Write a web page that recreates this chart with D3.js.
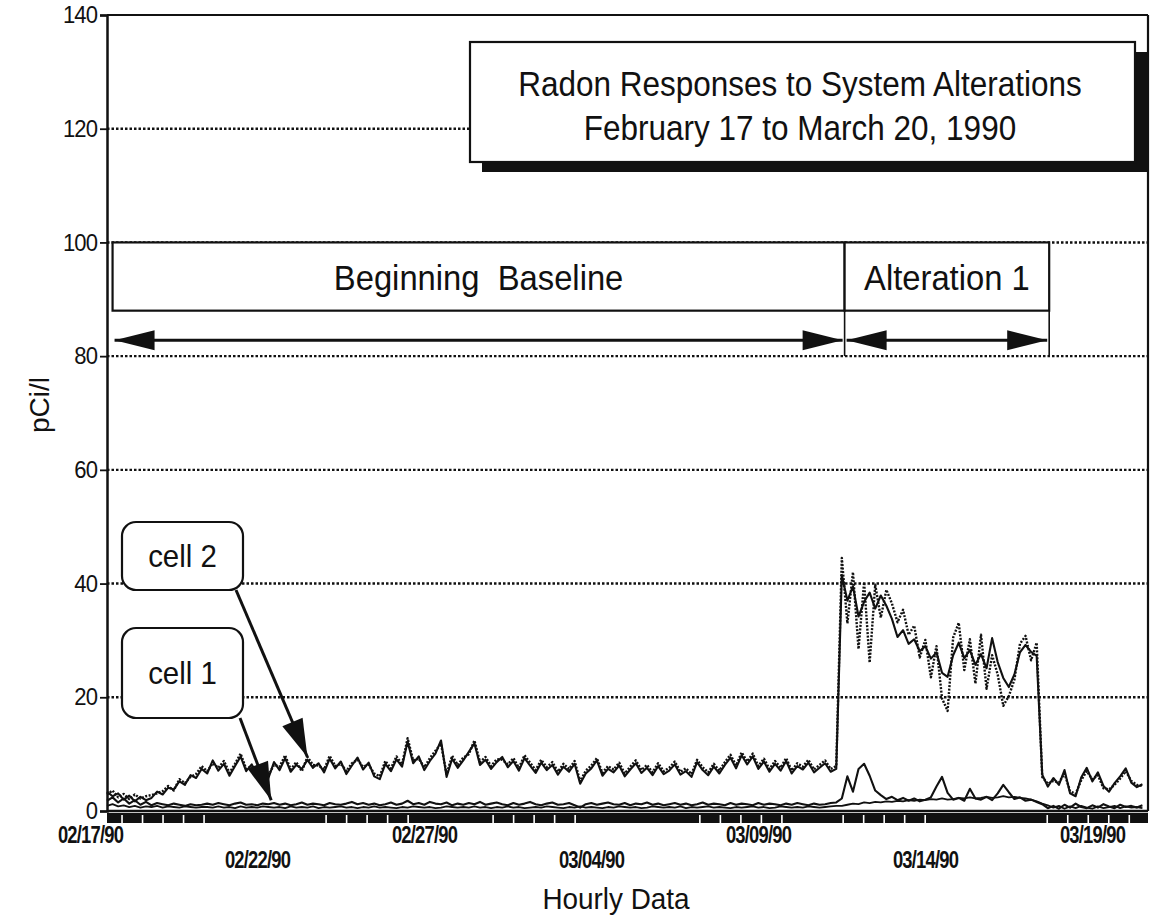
<!DOCTYPE html>
<html>
<head>
<meta charset="utf-8">
<script src="https://cdn.jsdelivr.net/npm/d3@7/dist/d3.min.js"></script>
<style>
body{margin:0;background:#fff;}
svg{display:block;background:#fff;}
text{font-family:"Liberation Sans",Arial,Helvetica,sans-serif;fill:#111;}
</style>
</head>
<body>
<svg width="1153" height="921"></svg>
<script>
// readings every 4 hours, first one at 02/17/90 00:00
var startTime = new Date(1990,1,17,0);
var stepHours = 4;

// cell 2, solid trace
var cell2 = [3.4,2.6,3.1,2.0,2.7,1.7,2.5,1.9,
  2.3,3.4,2.9,4.1,3.8,5.2,4.6,6.3,5.8,7.4,
  6.6,8.9,7.1,8.3,6.2,7.9,9.6,7.0,8.2,6.4,7.7,5.8,8.6,7.2,9.3,6.9,8.1,7.4,9.0,7.6,8.4,6.8,9.2,7.5,8.7,6.5,8.0,9.4,7.3,8.5,6.1,
  5.6,8.3,7.0,9.1,7.8,12.2,8.4,9.6,7.2,8.8,10.1,12.4,6.0,9.2,7.6,8.9,10.4,11.9,8.1,9.0,7.4,8.6,9.5,7.7,8.8,7.1,9.3,8.0,6.7,8.5,
  7.2,8.1,6.4,7.8,6.9,8.3,4.8,6.6,7.5,8.9,6.2,7.4,6.8,8.0,6.1,7.3,8.4,6.7,7.6,6.3,7.9,6.5,7.1,8.2,6.4,7.0,
  6.0,8.6,7.2,6.3,7.8,6.6,8.1,9.4,7.5,9.8,8.2,9.6,7.4,8.7,6.9,8.3,7.1,8.8,6.6,7.9,7.3,8.5,6.8,7.6,8.4,6.9,7.4,
  41.5,37.0,39.5,34.2,36.8,38.4,35.6,37.9,36.1,33.8,30.6,31.8,29.4,30.2,28.1,29.0,26.8,27.9,24.3,23.6,
  27.4,29.6,26.9,28.3,25.7,27.6,25.1,30.4,26.2,23.4,21.8,24.0,27.9,29.2,28.0,27.3,
  6.4,4.3,5.8,4.6,7.2,3.1,2.6,5.9,7.6,5.2,6.8,4.4,3.4,4.9,6.1,7.5,5.0,4.2,4.7];

// cell 2, dotted trace
var cell2b = [2.9,3.6,2.4,3.0,2.1,2.9,2.2,2.6,
  2.8,3.1,3.5,4.4,3.6,5.6,4.9,6.0,6.5,7.9,
  7.0,8.4,7.6,8.8,6.7,8.3,10.1,7.4,7.9,7.0,8.2,6.3,8.1,7.8,9.8,7.3,8.6,7.0,9.5,8.1,8.0,7.3,9.7,7.9,8.3,7.0,8.4,9.0,7.8,8.1,6.6,
  6.1,8.8,7.5,9.6,8.2,12.8,8.9,9.2,7.7,9.3,10.6,11.8,6.5,9.7,8.1,9.4,10.0,12.4,8.6,9.5,7.9,9.1,9.0,8.2,9.3,7.6,9.8,8.5,7.2,9.0,
  7.7,8.6,6.9,8.3,7.4,8.8,5.2,7.1,8.0,9.3,6.7,7.9,7.3,8.5,6.6,7.8,8.9,7.2,8.1,6.8,8.4,7.0,7.6,8.7,6.9,7.5,
  6.5,9.0,7.7,6.8,8.3,7.1,8.6,9.9,8.0,10.3,8.7,10.1,7.9,9.2,7.4,8.8,7.6,9.3,7.1,8.4,7.8,9.0,7.3,8.1,8.9,7.4,7.9,
  44.5,33.0,42.0,28.5,40.2,26.1,39.8,34.0,38.9,36.5,33.2,35.4,31.0,32.6,27.0,30.1,23.5,29.0,19.8,17.6,
  30.5,33.1,24.8,30.2,22.4,31.0,21.5,27.4,24.0,18.5,20.2,23.1,29.4,30.8,26.5,29.6,
  6.0,4.8,5.3,5.0,6.6,3.5,3.0,5.4,7.0,5.6,6.3,4.0,3.8,4.6,5.7,7.0,5.3,4.6,4.4];

// cell 1, solid trace with the bumps
var cell1 = [1.8,2.4,1.5,2.2,1.3,1.9,1.1,1.6,1.0,1.4,1.2,1.0,1.3,1.1,0.9,1.2,1.0,1.1,
  1.3,1.1,1.4,1.2,1.0,1.3,1.5,1.1,1.2,1.0,1.3,1.2,
  1.4,1.1,1.3,1.0,1.2,1.5,1.1,1.3,1.2,1.0,1.4,1.2,
  1.1,1.3,1.6,1.2,1.4,1.1,1.3,1.0,1.2,1.5,1.1,1.3,
  1.8,1.2,1.4,1.1,1.6,1.3,1.2,1.5,1.0,1.3,1.1,1.4,
  1.2,1.6,1.1,1.3,1.5,1.2,1.0,1.4,1.1,1.3,1.6,1.2,
  1.0,1.3,1.5,1.1,1.2,1.4,1.0,0.6,1.2,1.4,1.1,1.3,
  1.5,1.2,1.1,1.4,1.0,1.3,1.2,1.5,1.1,1.3,1.0,1.2,
  1.4,1.1,1.3,1.0,1.2,1.5,1.1,1.3,1.2,1.0,1.4,1.1,
  1.3,1.2,1.0,1.4,1.1,1.3,1.2,1.0,1.3,1.1,1.4,1.2,
  1.0,1.3,1.1,1.2,1.4,1.5,
  2.2,6.1,3.4,7.4,8.3,6.2,3.6,2.8,2.1,2.5,1.9,2.3,1.8,2.2,1.7,2.0,2.4,4.3,6.0,3.2,
  2.0,2.3,1.8,3.9,2.2,2.0,2.5,1.9,3.1,4.6,3.3,2.1,2.4,1.8,2.0,1.6,
  1.2,0.5,0.9,0.4,1.1,0.6,1.3,0.7,0.5,1.0,0.6,1.2,0.8,0.5,1.1,0.7,0.9,0.6,1.0];

// cell 1, lowest trace
var cell1b = [0.9,1.2,0.8,1.0,0.7,0.9,0.6,0.8,0.7,0.9,0.6,0.8,0.7,0.6,0.8,0.7,0.6,0.7,
  0.7,0.6,0.8,0.6,0.7,0.5,0.8,0.6,0.7,0.6,0.8,0.7,
  0.6,0.7,0.5,0.8,0.6,0.7,0.6,0.8,0.5,0.7,0.6,0.7,
  0.8,0.6,0.7,0.5,0.7,0.6,0.8,0.6,0.7,0.6,0.5,0.7,
  0.6,0.8,0.7,0.6,0.7,0.5,0.6,0.8,0.7,0.6,0.7,0.6,
  0.8,0.6,0.7,0.5,0.7,0.6,0.8,0.6,0.7,0.5,0.6,0.7,
  0.6,0.8,0.7,0.6,0.5,0.7,0.6,0.8,0.6,0.7,0.6,0.5,
  0.7,0.6,0.8,0.7,0.6,0.7,0.5,0.6,0.8,0.7,0.6,0.7,
  0.6,0.8,0.5,0.7,0.6,0.7,0.8,0.6,0.7,0.6,0.5,0.7,
  0.6,0.7,0.8,0.6,0.7,0.5,0.6,0.8,0.7,0.6,0.7,0.6,
  0.8,0.7,0.6,0.7,0.8,0.9,
  0.9,1.1,1.3,1.2,1.5,1.4,1.6,1.5,1.7,1.6,1.8,1.7,1.9,1.8,2.0,1.9,2.1,2.0,2.2,2.0,
  2.1,2.3,2.2,2.4,2.2,2.3,2.5,2.3,2.4,2.6,2.4,2.5,2.3,2.2,2.0,1.7,
  1.3,1.0,0.6,0.9,0.4,0.8,0.5,0.9,0.6,0.4,0.8,0.5,0.7,0.9,0.5,0.8,0.6,0.7,0.5];

var yTicks = [0,20,40,60,80,100,120,140];
var dateTicks = [new Date(1990,1,17), new Date(1990,1,22), new Date(1990,1,27), new Date(1990,2,4),
  new Date(1990,2,9), new Date(1990,2,14), new Date(1990,2,19)];
var phases = [
  {name:"Beginning\u00a0\u00a0Baseline", start:new Date(1990,1,17,4), end:new Date(1990,2,11,2)},
  {name:"Alteration 1", start:new Date(1990,2,11,2), end:new Date(1990,2,17,5)}
];
var titleLines = ["Radon Responses to System Alterations", "February 17 to March 20, 1990"];
var cellNotes = [
  {name:"cell 2", at:new Date(1990,1,23,0), value:9.5},
  {name:"cell 1", at:new Date(1990,1,21,22), value:1.9}
];
// days (from start) where the hour-tick band shows white gaps
var gapGroups = [0.45, 6.56, 11.56, 17.75, 22.04, 28.15];

var svg = d3.select("svg");
var ink = "#111";
var narrow = 0.9; // the old chart font is a condensed Helvetica

var x = d3.scaleTime()
  .domain([startTime, new Date(1990,2,20,4)])
  .range([107,1148]);
var y = d3.scaleLinear()
  .domain([0,140])
  .range([811,15]);

function timeAt(i) {
  return new Date(startTime.getTime() + i*stepHours*3600000);
}

// condensed text placed at a centre/anchor point
function label(parent,cx,cy,str,size,k,anchor) {
  return parent.append("g").attr("transform","translate("+cx+","+cy+") scale("+k+",1)")
    .append("text").attr("text-anchor",anchor||"middle").attr("font-size",size).text(str);
}

// dotted grid lines
svg.append("g").selectAll("line")
  .data(yTicks.filter(function(d){ return d>0 && d<140; }))
  .enter().append("line")
  .attr("x1",x.range()[0]).attr("x2",x.range()[1])
  .attr("y1",function(d){ return y(d); })
  .attr("y2",function(d){ return y(d); })
  .attr("stroke",ink).attr("stroke-width",2.4)
  .attr("stroke-dasharray","2.5,2");

// frame: top and right
svg.append("line").attr("x1",x.range()[0]).attr("x2",x.range()[1])
  .attr("y1",y(140)).attr("y2",y(140)).attr("stroke",ink).attr("stroke-width",2.2);
svg.append("line").attr("x1",x.range()[1]).attr("x2",x.range()[1])
  .attr("y1",y(140)).attr("y2",y(0)).attr("stroke",ink).attr("stroke-width",2.2);

// y axis
var yAxis = d3.axisLeft(y).tickValues(yTicks).tickSize(7).tickPadding(3);
var gy = svg.append("g").attr("transform","translate("+x.range()[0]+",0)").call(yAxis);
gy.select(".domain").attr("stroke",ink).attr("stroke-width",2.5);
gy.selectAll(".tick line").attr("stroke",ink).attr("stroke-width",1.8);
gy.selectAll("text")
  .attr("font-size",24).attr("letter-spacing",-1).attr("fill",ink)
  .attr("x",-10/0.92).attr("transform","scale(0.92,1)");

// x axis baseline
svg.append("line").attr("x1",x.range()[0]).attr("x2",x.range()[1])
  .attr("y1",y(0)).attr("y2",y(0)).attr("stroke",ink).attr("stroke-width",2.4);

// dark band of hourly ticks under the axis
svg.append("rect").attr("x",x.range()[0]).attr("y",y(0)+2)
  .attr("width",x.range()[1]-x.range()[0]).attr("height",10).attr("fill",ink);
var gaps = [];
gapGroups.forEach(function(g){
  for (var k=0;k<5;k++) gaps.push(new Date(startTime.getTime() + (g + k*0.614)*86400000));
});
svg.append("g").selectAll("line").data(gaps).enter().append("line")
  .attr("x1",function(d){ return x(d); }).attr("x2",function(d){ return x(d); })
  .attr("y1",y(0)+4).attr("y2",y(0)+12)
  .attr("stroke","#fff").attr("stroke-width",1.6);

// x tick labels, two staggered rows
var kx = 0.8;
var xAxis = d3.axisBottom(x).tickValues(dateTicks)
  .tickFormat(d3.timeFormat("%m/%d/%y")).tickSize(0);
var gx = svg.append("g").attr("transform","translate(0,"+y(0)+")").call(xAxis);
gx.select(".domain").remove();
gx.selectAll(".tick text")
  .attr("transform","scale("+kx+",1)")
  .attr("dx",-17/kx)
  .attr("dy",0)
  .attr("y",function(d,i){ return i%2 ? 57 : 32; })
  .attr("font-size",23).attr("font-weight","bold")
  .attr("letter-spacing",-1).attr("fill",ink);

// data traces
var line = d3.line()
  .x(function(d,i){ return x(timeAt(i)); })
  .y(function(d){ return y(d); });

var traces = [
  {values:cell1b, dash:null, w:1.8},
  {values:cell1, dash:null, w:2.1},
  {values:cell2, dash:null, w:2.1},
  {values:cell2b, dash:"2,1.5", w:2.4}
];
svg.append("g").selectAll("path").data(traces).enter().append("path")
  .attr("d",function(d){ return line(d.values); })
  .attr("fill","none").attr("stroke",ink)
  .attr("stroke-width",function(d){ return d.w; })
  .attr("stroke-dasharray",function(d){ return d.dash; })
  .attr("stroke-linejoin","round");

// arrowhead helper
function head(x1,y1,x2,y2,len,half) {
  var a = Math.atan2(y2-y1,x2-x1);
  var bx = x2 - len*Math.cos(a), by = y2 - len*Math.sin(a);
  var px = -Math.sin(a)*half, py = Math.cos(a)*half;
  return [[x2,y2],[bx+px,by+py],[bx-px,by-py]];
}
function arrow(g,x1,y1,x2,y2,len,half,both) {
  g.append("line").attr("x1",x1).attr("y1",y1).attr("x2",x2).attr("y2",y2)
    .attr("stroke",ink).attr("stroke-width",3);
  g.append("polygon").attr("points",head(x1,y1,x2,y2,len,half).join(" ")).attr("fill",ink);
  if (both) g.append("polygon").attr("points",head(x2,y2,x1,y1,len,half).join(" ")).attr("fill",ink);
}

// phase boxes with their span arrows
var boxTop = y(100), boxBottom = y(88), arrowY = y(82.8);
var pg = svg.selectAll(".phase").data(phases).enter().append("g").attr("class","phase");
pg.append("rect")
  .attr("x",function(d){ return x(d.start); })
  .attr("y",boxTop)
  .attr("width",function(d){ return x(d.end)-x(d.start); })
  .attr("height",boxBottom-boxTop)
  .attr("fill","#fff").attr("stroke",ink).attr("stroke-width",2.2);
pg.each(function(d,i){
  var g = d3.select(this);
  label(g,(x(d.start)+x(d.end))/2,(boxTop+boxBottom)/2+13,d.name,36,0.91);
  if (i>0) {
    g.append("line").attr("x1",x(d.start)).attr("x2",x(d.start)).attr("y1",boxBottom).attr("y2",y(80))
      .attr("stroke",ink).attr("stroke-width",1.6);
    g.append("line").attr("x1",x(d.end)).attr("x2",x(d.end)).attr("y1",boxBottom).attr("y2",y(80))
      .attr("stroke",ink).attr("stroke-width",1.6);
  }
  arrow(g,x(d.start)+2,arrowY,x(d.end)-2,arrowY,40,10,true);
});

// title box with drop shadow
svg.append("rect").attr("x",482).attr("y",52).attr("width",665).attr("height",120).attr("fill",ink);
svg.append("rect").attr("x",470).attr("y",42).attr("width",665).attr("height",120)
  .attr("fill","#fff").attr("stroke",ink).attr("stroke-width",2.2);
titleLines.forEach(function(t,i){
  label(svg,800,96+i*44,t,35,narrow);
});

// cell call-outs
var noteBoxes = [{x:122,y:522,w:121,h:68},{x:122,y:628,w:121,h:90}];
var starts = [[236,590],[240,718]];
var ng = svg.selectAll(".note").data(cellNotes).enter().append("g").attr("class","note");
ng.append("rect")
  .attr("x",function(d,i){ return noteBoxes[i].x; })
  .attr("y",function(d,i){ return noteBoxes[i].y; })
  .attr("width",function(d,i){ return noteBoxes[i].w; })
  .attr("height",function(d,i){ return noteBoxes[i].h; })
  .attr("rx",14).attr("fill","#fff").attr("stroke",ink).attr("stroke-width",2.2);
ng.each(function(d,i){
  var b = noteBoxes[i];
  label(d3.select(this),b.x+b.w/2,b.y+b.h/2+11,d.name,32,0.92);
  arrow(d3.select(this),starts[i][0],starts[i][1],x(d.at),y(d.value),38,11,false);
});

// axis titles
svg.append("g").attr("transform","translate(49,405) rotate(-90)")
  .append("text").attr("text-anchor","middle").attr("font-size",28).text("pCi/l");
label(svg,616,909,"Hourly Data",30,0.93);
</script>
</body>
</html>
